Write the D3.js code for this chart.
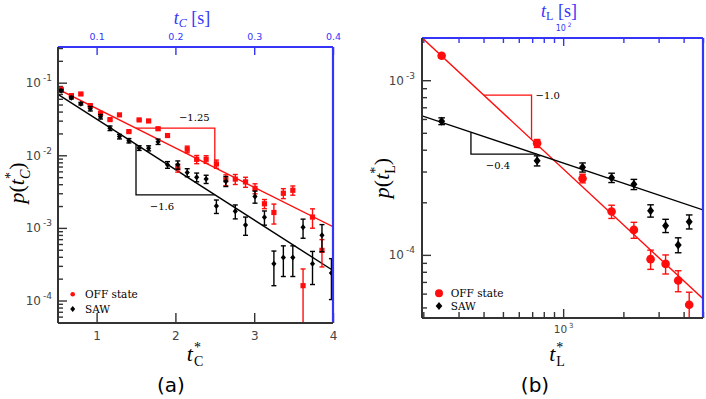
<!DOCTYPE html>
<html>
<head>
<meta charset="utf-8">
<script src="https://cdn.jsdelivr.net/npm/d3@7"></script>
<style>
  body { margin: 0; background: #fff; }
  svg { display: block; }
</style>
</head>
<body>
<svg id="chart" width="706" height="399"></svg>
<script>
// ---- panel (a): contact times, t*_C (linear x, log y) ----
var tC = [0.55, 0.68, 0.80, 0.92, 1.05, 1.17, 1.29, 1.41, 1.54, 1.66, 1.78, 1.90, 2.03, 2.15, 2.27,
          2.39, 2.52, 2.64, 2.76, 2.89, 3.01, 3.13, 3.25, 3.37, 3.49, 3.62, 3.74, 3.86, 3.98];
var offP_C = [0.0811, 0.0663, 0.0699, 0.0483, 0.0379, 0.0310, 0.0360, 0.0212, 0.0307, 0.0297, 0.0232, 0.0187,
              0.0067, 0.0121, 0.0088, 0.0088, 0.0076, 0.0046, 0.0047, 0.0043, 0.0035, 0.00215, 0.00163,
              0.0030, 0.0033, 0.00016, 0.00141, 0.00049];
var offErr_C = [0.0024, 0.0020, 0.0021, 0.0014, 0.0011, 0.0009, 0.0011, 0.0006, 0.0009, 0.0009, 0.0009, 0.0009,
                0.00084, 0.00127, 0.00114, 0.00106, 0.00099, 0.00078, 0.00074, 0.00068, 0.00055, 0.00031, 0.0005,
                0.00047, 0.00048, 0.000112, 0.00042, 0.0002];
var sawP_C = [0.0776, 0.0622, 0.0514, 0.0439, 0.0340, 0.0236, 0.0181, 0.0159, 0.0126, 0.0125, 0.0154, 0.0074,
              0.0074, 0.0058, 0.0050, 0.0047, 0.0020, 0.0044, 0.0017, 0.0011, 0.0027, 0.0014, 0.00032,
              0.00039, 0.00039, 0.00102, 0.00032, 0.00079, 0.00024];
var sawErr_C = [0.0031, 0.0025, 0.0021, 0.0031, 0.0024, 0.0017, 0.0013, 0.0011, 0.00093, 0.001, 0.0013, 0.00078,
                0.00096, 0.00073, 0.00069, 0.00061, 0.00042, 0.00069, 0.00037, 0.00031, 0.00051, 0.00031, 0.00016,
                0.000176, 0.000176, 0.0003, 0.000154, 0.00032, 0.000137];
// fits p = A exp(-k t)
var offFitC = {amp: 0.154, rate: 1.25, label: "\u22121.25"};
var sawFitC = {amp: 0.156, rate: 1.6, label: "\u22121.6"};
var triC = [1.5, 2.5];
var bottomTicksC = [1, 2, 3, 4];
var topTicksC = [0.1, 0.2, 0.3, 0.4];

// ---- panel (b): t*_L (log x, log y) ----
var tL = [247, 741, 1250, 1746, 2257, 2735, 3251, 3758, 4266];
var offP_L = [1.38e-3, 4.35e-4, 2.74e-4, 1.77e-4, 1.39e-4, 9.45e-5, 8.88e-5, 7.13e-5, 5.18e-5];
var offErr_L = [4.1e-5, 2.3e-5, 1.56e-5, 1.54e-5, 1.46e-5, 1.19e-5, 1.11e-5, 9.8e-6, 9.3e-6];
var sawP_L = [5.83e-4, 3.46e-4, 3.17e-4, 2.765e-4, 2.535e-4, 1.79e-4, 1.47e-4, 1.14e-4, 1.55e-4];
var sawErr_L = [2.6e-5, 2.3e-5, 1.9e-5, 1.7e-5, 1.7e-5, 1.45e-5, 1.28e-5, 1.12e-5, 1.43e-5];
// fits p = A t^b
var offFitL = {amp: 0.4836, exp: -1.064, label: "\u22121.0"};
var sawFitL = {amp: 0.004747, exp: -0.3836, label: "\u22120.4"};
var triOffL = [401, 695];
var triSawL = [346, 736];

var RED = "#ff0d0d", BLUE = "#3535f8", AX = "#333", LAB = "#444";
var SERIF = "'Liberation Serif', 'DejaVu Serif', serif";
var SERIF2 = "'DejaVu Serif', serif";
var SANS = "'DejaVu Sans', sans-serif";

var svg = d3.select("#chart");

// scales
var xC = d3.scaleLinear().domain([0.51, 4]).range([58, 333]);
var xCtop = d3.scaleLinear().domain([0.051, 0.4]).range([58, 333]);
var yC = d3.scaleLog().domain([4.9e-5, 0.31]).range([323, 47]);

var xL = d3.scaleLog().domain([197, 5000]).range([422, 703]);
var xLtop = d3.scaleLog().domain([19.7, 500]).range([422, 703]);
var yL = d3.scaleLog().domain([4.35e-5, 1.745e-3]).range([318, 38]);

function isPow(d) { return Math.abs(Math.log10(d) - Math.round(Math.log10(d))) < 1e-6; }

function styleAxis(a, color, size) {
  a.select(".domain").remove();
  a.selectAll(".tick line").attr("stroke", color).attr("stroke-width", 1.4);
  a.selectAll(".tick text").attr("fill", color == AX ? LAB : color)
    .attr("font-size", size).attr("font-family", SANS);
  return a;
}

function powLabels(a, supSize, rise) {
  a.selectAll(".tick text").each(function(d) {
    var t = d3.select(this).text(null);
    t.append("tspan").text("10");
    t.append("tspan").attr("font-size", supSize).attr("dx", 2).attr("dy", -rise)
      .text(Math.round(Math.log10(d)));
  });
}

function frame(g, x, y) {
  var x0 = x.range()[0], x1 = x.range()[1], yb = y.range()[0], yt = y.range()[1];
  g.append("line").attr("x1", x0).attr("x2", x1).attr("y1", yt).attr("y2", yt)
    .attr("stroke", BLUE).attr("stroke-width", 2);
  g.append("line").attr("x1", x1).attr("x2", x1).attr("y1", yt).attr("y2", yb)
    .attr("stroke", BLUE).attr("stroke-width", 2.2);
  g.append("line").attr("x1", x0).attr("x2", x1).attr("y1", yb).attr("y2", yb)
    .attr("stroke", AX).attr("stroke-width", 2);
  g.append("line").attr("x1", x0).attr("x2", x0).attr("y1", yt).attr("y2", yb)
    .attr("stroke", AX).attr("stroke-width", 2);
}

function clip(id, x, y) {
  svg.append("clipPath").attr("id", id).append("rect")
    .attr("x", x.range()[0]).attr("y", y.range()[1])
    .attr("width", x.range()[1] - x.range()[0]).attr("height", y.range()[0] - y.range()[1]);
}

function series(g, xs, ps, es, x, y, color, cap, marker) {
  var d = ps.map(function(p, i) { return {t: xs[i], p: p, e: es[i]}; });
  var eb = g.append("g").attr("stroke", color).attr("stroke-width", 1.4);
  eb.selectAll(".v").data(d).join("line").attr("class", "v")
    .attr("x1", function(v) { return x(v.t); }).attr("x2", function(v) { return x(v.t); })
    .attr("y1", function(v) { return y(v.p + v.e); }).attr("y2", function(v) { return y(Math.max(v.p - v.e, 1e-9)); });
  [1, -1].forEach(function(s) {
    eb.selectAll(null).data(d).join("line")
      .attr("x1", function(v) { return x(v.t) - cap; }).attr("x2", function(v) { return x(v.t) + cap; })
      .attr("y1", function(v) { return y(Math.max(v.p + s * v.e, 1e-9)); })
      .attr("y2", function(v) { return y(Math.max(v.p + s * v.e, 1e-9)); });
  });
  var m = g.append("g").attr("fill", color);
  m.selectAll(null).data(d).join("path")
    .attr("transform", function(v) { return "translate(" + x(v.t) + "," + y(v.p) + ")"; })
    .attr("d", marker);
}

function sq(s) { return "M" + -s + "," + -s + "H" + s + "V" + s + "H" + -s + "Z"; }
function dia(w, h) { return "M0," + -h + "L" + w + ",0L0," + h + "L" + -w + ",0Z"; }
function circ(r) { return "M" + -r + ",0A" + r + "," + r + " 0 1,0 " + r + ",0A" + r + "," + r + " 0 1,0 " + -r + ",0Z"; }

// ================= panel (a) =================
var gA = svg.append("g");
clip("clipA", xC, yC);

var majC = yC.ticks().filter(isPow), minC = yC.ticks().filter(function(d) { return !isPow(d); });
styleAxis(gA.append("g").attr("transform", "translate(58,0)")
  .call(d3.axisLeft(yC).tickValues(minC).tickSize(-5).tickFormat("")), AX, 11);
powLabels(styleAxis(gA.append("g").attr("transform", "translate(58,0)")
  .call(d3.axisLeft(yC).tickValues(majC).tickSize(-9).tickPadding(6)), AX, 12), 9, 6);
styleAxis(gA.append("g").attr("transform", "translate(0,323)")
  .call(d3.axisBottom(xC).tickValues(bottomTicksC).tickSize(-10).tickPadding(8).tickFormat(d3.format("d"))), AX, 12);
styleAxis(gA.append("g").attr("transform", "translate(0,47)")
  .call(d3.axisTop(xCtop).tickValues(topTicksC).tickSize(-8).tickPadding(7).tickFormat(d3.format(".1f"))), BLUE, 9.5);

var pA = gA.append("g").attr("clip-path", "url(#clipA)");
function expFit(f) { return function(t) { return f.amp * Math.exp(-f.rate * t); }; }
[[offFitC, RED], [sawFitC, "#000"]].forEach(function(fc) {
  var fn = expFit(fc[0]);
  pA.append("path").datum(xC.domain())
    .attr("d", d3.line().x(function(t) { return xC(t); }).y(function(t) { return yC(fn(t)); }))
    .attr("fill", "none").attr("stroke", fc[1]).attr("stroke-width", 1.4);
});
// slope triangles
var fo = expFit(offFitC), fs = expFit(sawFitC);
pA.append("path")
  .attr("d", "M" + xC(triC[0]) + "," + yC(fo(triC[0])) + "H" + xC(triC[1]) + "V" + yC(fo(triC[1])))
  .attr("fill", "none").attr("stroke", RED).attr("stroke-width", 1.3);
pA.append("path")
  .attr("d", "M" + xC(triC[0]) + "," + yC(fs(triC[0])) + "V" + yC(fs(triC[1])) + "H" + xC(triC[1]))
  .attr("fill", "none").attr("stroke", "#000").attr("stroke-width", 1.3);
gA.append("text").attr("x", xC(2.24)).attr("y", yC(fo(triC[0])) - 7).attr("text-anchor", "middle")
  .attr("font-family", SERIF2).attr("font-size", 10).text(offFitC.label);
gA.append("text").attr("x", xC(1.83)).attr("y", yC(fs(triC[1])) + 15).attr("text-anchor", "middle")
  .attr("font-family", SERIF2).attr("font-size", 10).text(sawFitC.label);

series(pA, tC, offP_C, offErr_C, xC, yC, RED, 2.5, sq(2.6));
series(pA, tC, sawP_C, sawErr_C, xC, yC, "#000", 2.5, dia(2.6, 3));
frame(gA, xC, yC);

// legend (a)
gA.append("path").attr("transform", "translate(72.7,294.3)").attr("d", circ(2.3)).attr("fill", RED);
gA.append("path").attr("transform", "translate(72.7,309)").attr("d", dia(2.5, 3)).attr("fill", "#000");
gA.append("text").attr("x", 85).attr("y", 297.8).attr("font-family", SERIF2).attr("font-size", 10.5).text("OFF state");
gA.append("text").attr("x", 85).attr("y", 312.5).attr("font-family", SERIF2).attr("font-size", 10.5).text("SAW");

// labels (a)
var yl = gA.append("text").attr("transform", "translate(24,183) rotate(-90)").attr("text-anchor", "middle")
  .attr("font-family", SERIF).attr("font-size", 22);
yl.append("tspan").attr("font-style", "italic").text("p");
yl.append("tspan").text("(");
yl.append("tspan").attr("font-style", "italic").text("t");
yl.append("tspan").attr("font-size", 14).attr("dy", -9).text("*");
yl.append("tspan").attr("font-size", 14).attr("font-style", "italic").attr("dx", -7).attr("dy", 15).text("C");
yl.append("tspan").attr("dy", -6).text(")");

var xl = gA.append("text").attr("x", 195).attr("y", 360.5).attr("text-anchor", "middle")
  .attr("font-family", SERIF).attr("font-size", 22);
xl.append("tspan").attr("font-style", "italic").text("t");
xl.append("tspan").attr("font-size", 14).attr("dx", 1).attr("dy", -9).text("*");
xl.append("tspan").attr("font-size", 14).attr("dx", -7).attr("dy", 14).text("C");

var tt = gA.append("text").attr("x", 192).attr("y", 24).attr("text-anchor", "middle")
  .attr("font-family", SERIF).attr("font-size", 18).attr("fill", BLUE);
tt.append("tspan").attr("font-style", "italic").text("t");
tt.append("tspan").attr("font-size", 12).attr("font-style", "italic").attr("dy", 3).text("C");
tt.append("tspan").attr("dy", -3).text(" [s]");

gA.append("text").attr("x", 171).attr("y", 392).attr("text-anchor", "middle")
  .attr("font-family", SANS).attr("font-size", 20).text("(a)");

// ================= panel (b) =================
var gB = svg.append("g");
clip("clipB", xL, yL);

var majL = yL.ticks().filter(isPow), minL = yL.ticks().filter(function(d) { return !isPow(d); });
styleAxis(gB.append("g").attr("transform", "translate(422,0)")
  .call(d3.axisLeft(yL).tickValues(minL).tickSize(-5).tickFormat("")), AX, 11);
powLabels(styleAxis(gB.append("g").attr("transform", "translate(422,0)")
  .call(d3.axisLeft(yL).tickValues(majL).tickSize(-9).tickPadding(7)), AX, 12), 9, 6);

var bx = xL.ticks();
styleAxis(gB.append("g").attr("transform", "translate(0,318)")
  .call(d3.axisBottom(xL).tickValues(bx.filter(function(d) { return !isPow(d); })).tickSize(-6).tickFormat("")), AX, 10);
powLabels(styleAxis(gB.append("g").attr("transform", "translate(0,318)")
  .call(d3.axisBottom(xL).tickValues(bx.filter(isPow)).tickSize(-9).tickPadding(8)), AX, 10.5), 7, 5);

var tx = xLtop.ticks();
styleAxis(gB.append("g").attr("transform", "translate(0,38)")
  .call(d3.axisTop(xLtop).tickValues(tx.filter(function(d) { return !isPow(d); })).tickSize(-5).tickFormat("")), BLUE, 8);
powLabels(styleAxis(gB.append("g").attr("transform", "translate(0,38)")
  .call(d3.axisTop(xLtop).tickValues(tx.filter(isPow)).tickSize(-8).tickPadding(7)), BLUE, 8), 6, 4);

var pB = gB.append("g").attr("clip-path", "url(#clipB)");
function powFit(f) { return function(t) { return f.amp * Math.pow(t, f.exp); }; }
[[offFitL, RED], [sawFitL, "#000"]].forEach(function(fc) {
  var fn = powFit(fc[0]);
  pB.append("path").datum(xL.domain())
    .attr("d", d3.line().x(function(t) { return xL(t); }).y(function(t) { return yL(fn(t)); }))
    .attr("fill", "none").attr("stroke", fc[1]).attr("stroke-width", 1.4);
});
var go = powFit(offFitL), gs = powFit(sawFitL);
pB.append("path")
  .attr("d", "M" + xL(triOffL[0]) + "," + yL(go(triOffL[0])) + "H" + xL(triOffL[1]) + "V" + yL(go(triOffL[1])))
  .attr("fill", "none").attr("stroke", RED).attr("stroke-width", 1.3);
pB.append("path")
  .attr("d", "M" + xL(triSawL[0]) + "," + yL(gs(triSawL[0])) + "V" + yL(gs(triSawL[1])) + "H" + xL(triSawL[1]))
  .attr("fill", "none").attr("stroke", "#000").attr("stroke-width", 1.3);
gB.append("text").attr("x", xL(triOffL[1]) + 4).attr("y", yL(go(triOffL[0])) + 3.5)
  .attr("font-family", SERIF2).attr("font-size", 10).text(offFitL.label);
gB.append("text").attr("x", 498).attr("y", yL(gs(triSawL[1])) + 15).attr("text-anchor", "middle")
  .attr("font-family", SERIF2).attr("font-size", 10).text(sawFitL.label);

series(pB, tL, offP_L, offErr_L, xL, yL, RED, 3.3, circ(4.3));
series(pB, tL, sawP_L, sawErr_L, xL, yL, "#000", 3.3, dia(3.5, 4.5));
frame(gB, xL, yL);

// legend (b)
gB.append("path").attr("transform", "translate(439,293.3)").attr("d", circ(4)).attr("fill", RED);
gB.append("path").attr("transform", "translate(439,306)").attr("d", dia(3.3, 4)).attr("fill", "#000");
gB.append("text").attr("x", 450.7).attr("y", 296.8).attr("font-family", SERIF2).attr("font-size", 10.5).text("OFF state");
gB.append("text").attr("x", 450.7).attr("y", 309.5).attr("font-family", SERIF2).attr("font-size", 10.5).text("SAW");

var yl2 = gB.append("text").attr("transform", "translate(389,178) rotate(-90)").attr("text-anchor", "middle")
  .attr("font-family", SERIF).attr("font-size", 22);
yl2.append("tspan").attr("font-style", "italic").text("p");
yl2.append("tspan").text("(");
yl2.append("tspan").attr("font-style", "italic").text("t");
yl2.append("tspan").attr("font-size", 14).attr("dy", -9).text("*");
yl2.append("tspan").attr("font-size", 14).attr("dx", -7).attr("dy", 15).text("L");
yl2.append("tspan").attr("dy", -6).text(")");

var xl2 = gB.append("text").attr("x", 557).attr("y", 360.5).attr("text-anchor", "middle")
  .attr("font-family", SERIF).attr("font-size", 22);
xl2.append("tspan").attr("font-style", "italic").text("t");
xl2.append("tspan").attr("font-size", 14).attr("dx", 1).attr("dy", -9).text("*");
xl2.append("tspan").attr("font-size", 14).attr("dx", -7).attr("dy", 14).text("L");

var tt2 = gB.append("text").attr("x", 559).attr("y", 17).attr("text-anchor", "middle")
  .attr("font-family", SERIF).attr("font-size", 18).attr("fill", BLUE);
tt2.append("tspan").attr("font-style", "italic").text("t");
tt2.append("tspan").attr("font-size", 12).attr("dy", 3).text("L");
tt2.append("tspan").attr("dy", -3).text(" [s]");

gB.append("text").attr("x", 535).attr("y", 392).attr("text-anchor", "middle")
  .attr("font-family", SANS).attr("font-size", 20).text("(b)");
</script>
</body>
</html>
